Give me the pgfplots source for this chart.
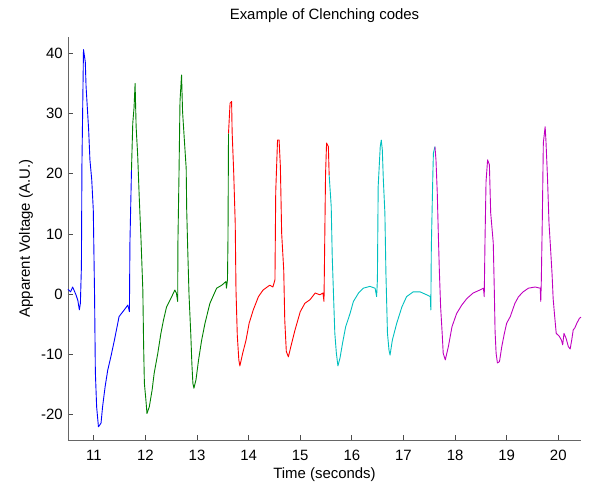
\documentclass[border=0pt]{standalone}
\usepackage{pgfplots}
\pgfplotsset{compat=1.18}
\usepackage{fontspec}
\setmainfont{Liberation Sans}
\definecolor{mblue}{rgb}{0,0,1}
\definecolor{mgreen}{rgb}{0,0.5,0}
\definecolor{mred}{rgb}{1,0,0}
\definecolor{mcyan}{rgb}{0,0.75,0.75}
\definecolor{mmag}{rgb}{0.75,0,0.75}
\begin{document}
\begin{tikzpicture}[font=\fontsize{15}{18}\selectfont]
\begin{axis}[
  scale only axis,
  width=513bp, height=403bp,
  xmin=10.5, xmax=20.44, ymin=-24.2, ymax=42.7,
  axis x line=bottom, axis y line=left,
  axis line style={-, draw=black!60, line width=0.8bp},
  xtick={11,12,...,20}, ytick={-20,-10,0,10,20,30,40},
  tick align=inside, major tick length=5bp,
  tick style={draw=black!70, line width=0.8bp},
  /pgf/number format/assume math mode=true,
  xticklabel style={anchor=base, yshift=-20bp, inner sep=0pt},
  yticklabel style={anchor=east, xshift=-5bp, inner sep=0pt},
  title={Example of Clenching codes},
  title style={at={(axis description cs:0.5,1.0298)}, anchor=base, inner sep=0pt},
  xlabel={Time (seconds)},
  xlabel style={at={(axis description cs:0.5,-0.0943)}, anchor=base, inner sep=0pt},
  ylabel={Apparent Voltage (A.U.)},
  ylabel style={at={(axis description cs:-0.0741,0.5)}, rotate=0, anchor=base, inner sep=0pt},
  clip=false,
  every axis plot/.append style={line width=0.9bp, line join=round},
]
\addplot[mblue] coordinates {
(10.50,0.8) (10.55,0.4) (10.59,1.2) (10.62,0.6) (10.655,-0.1) (10.69,-1.0) (10.72,-2.6) (10.74,-1.5) (10.76,4.6) (10.77,21.5) (10.80,40.6) (10.835,38.6) (10.85,34.5) (10.875,30.9) (10.90,27.3) (10.925,22.3) (10.96,19.0) (10.99,14.0) (11.015,-0.4) (11.03,-12.9) (11.055,-18.7) (11.09,-22.0) (11.14,-21.4) (11.17,-18.7) (11.22,-15.3) (11.27,-12.6) (11.33,-10.4) (11.40,-7.6) (11.49,-3.7) (11.59,-2.6) (11.66,-1.8) (11.69,-2.9) (11.70,8.5) (11.73,20.6)
};
\addplot[mgreen] coordinates {
(11.73,20.6) (11.755,28.4) (11.78,31) (11.80,35.0) (11.82,27.8) (11.85,23.1) (11.88,16.2) (11.915,9.0) (11.95,0.7) (11.965,-8.4) (11.98,-14.8) (12.01,-17.6) (12.03,-19.8) (12.075,-18.7) (12.13,-15.9) (12.17,-13.1) (12.24,-9.8) (12.30,-6.5) (12.35,-4.3) (12.41,-2.1) (12.51,-0.4) (12.57,0.7) (12.60,0.2) (12.625,-1.2) (12.63,8.7) (12.65,19.5) (12.67,32.0) (12.70,36.4) (12.72,30.3) (12.75,26.2) (12.79,20.9) (12.80,14.0) (12.82,7.4) (12.845,-0.1) (12.88,-6.8) (12.90,-11.5) (12.92,-14.8) (12.94,-15.6) (12.98,-14.2) (13.03,-10.9) (13.09,-7.6) (13.155,-4.8) (13.25,-1.5) (13.38,1.0) (13.48,1.5) (13.56,2.1) (13.57,1.0) (13.59,2.4) (13.60,9.3) (13.61,26.7)
};
\addplot[mred] coordinates {
(13.61,26.7) (13.64,31.7) (13.67,32.0) (13.68,27.0) (13.71,20.4) (13.74,11.8) (13.755,0.7) (13.78,-6.8) (13.81,-10.9) (13.83,-11.9) (13.885,-9.8) (13.95,-7.6) (14.01,-4.8) (14.09,-2.6) (14.19,-0.4) (14.28,0.7) (14.41,1.5) (14.47,1.2) (14.51,2.4) (14.525,17.0) (14.56,25.6) (14.59,25.6) (14.615,21.2) (14.64,10.1) (14.68,4.0) (14.70,-4.3) (14.73,-9.5) (14.77,-10.4) (14.835,-8.1) (14.90,-5.9) (15.00,-2.9) (15.09,-1.5) (15.19,-0.9) (15.29,0.2) (15.38,-0.1) (15.44,0.2) (15.46,-1.2) (15.47,5.7) (15.49,19.8) (15.51,25.1) (15.545,24.5) (15.56,19.8)
};
\addplot[mcyan] coordinates {
(15.56,19.8) (15.60,14.6) (15.62,6.2) (15.65,-1.5) (15.67,-6.5) (15.70,-9.8) (15.73,-11.9) (15.77,-10.6) (15.82,-8.1) (15.88,-5.4) (15.965,-3.2) (16.03,-1.2) (16.13,0.2) (16.22,1.0) (16.35,1.3) (16.45,1.0) (16.48,-0.4) (16.495,2.4) (16.51,17.9) (16.55,24.5) (16.57,25.6) (16.59,24.0) (16.61,19.0) (16.64,13.5) (16.66,3.5) (16.69,-6.5) (16.72,-9.3) (16.74,-10.1) (16.785,-7.6) (16.87,-4.8) (16.97,-2.1) (17.06,-0.4) (17.19,0.4) (17.32,0.4) (17.45,-0.1) (17.52,-0.4) (17.53,-2.6) (17.54,7.9) (17.57,20.1) (17.58,23.4) (17.61,24.5)
};
\addplot[mmag] coordinates {
(17.61,24.5) (17.63,22.3) (17.655,16.8) (17.675,10.1) (17.695,4.0) (17.72,-2.1) (17.75,-6.5) (17.77,-9.8) (17.81,-10.9) (17.87,-8.7) (17.94,-5.4) (18.03,-3.2) (18.13,-1.8) (18.23,-0.7) (18.35,0.2) (18.48,0.7) (18.55,1.0) (18.565,-0.4) (18.58,9.0) (18.60,18.7) (18.63,22.3) (18.665,21.5) (18.69,13.5) (18.74,8.5) (18.76,0.7) (18.775,-6.2) (18.795,-9.8) (18.82,-11.4) (18.86,-11.2) (18.905,-8.7) (18.955,-6.5) (19.00,-4.8) (19.07,-3.7) (19.16,-1.5) (19.23,-0.4) (19.32,0.4) (19.42,1.0) (19.55,1.2) (19.65,1.0) (19.66,-1.2) (19.67,1.8) (19.69,12.3) (19.71,25.1) (19.745,27.8) (19.76,25.6) (19.79,19.5) (19.82,11.8) (19.85,7.6) (19.88,3.2) (19.90,-0.7) (19.93,-3.7) (19.96,-6.5) (20.02,-7.0) (20.06,-7.6) (20.085,-8.4) (20.11,-6.5) (20.15,-7.3) (20.195,-8.7) (20.23,-9.1) (20.26,-7.6) (20.29,-5.9) (20.32,-5.6) (20.36,-4.8) (20.41,-4.0) (20.44,-3.8)
};
\end{axis}
\path ([shift={(-68bp,-47bp)}]current axis.south west) rectangle ([shift={(8bp,37bp)}]current axis.north east);
\end{tikzpicture}
\end{document}
